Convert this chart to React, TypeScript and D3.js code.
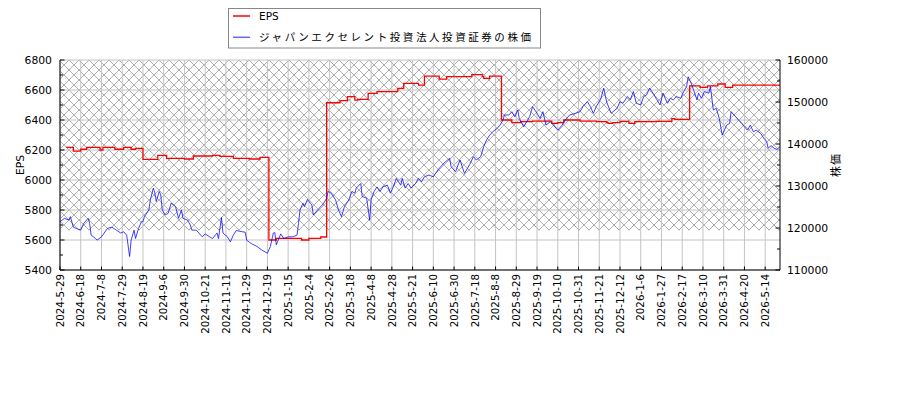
import { useEffect, useRef } from 'react';
import * as d3 from 'd3';

// trading-day index axis, a label every 14 sessions
const N_DAYS = 487;
const TICK_STEP = 14;
const tickLabels = [
  '2024-5-29', '2024-6-18', '2024-7-8', '2024-7-29', '2024-8-19', '2024-9-6', '2024-9-30',
  '2024-10-21', '2024-11-11', '2024-11-29', '2024-12-19', '2025-1-15', '2025-2-4', '2025-2-26',
  '2025-3-18', '2025-4-8', '2025-4-28', '2025-5-21', '2025-6-10', '2025-6-30', '2025-7-18',
  '2025-8-8', '2025-8-29', '2025-9-19', '2025-10-10', '2025-10-31', '2025-11-21', '2025-12-12',
  '2026-1-6', '2026-1-27', '2026-2-17', '2026-3-10', '2026-3-31', '2026-4-20', '2026-5-14',
];

const priceIdx = [
  0, 3, 6, 7, 9, 11, 14, 16, 19, 20, 21, 24, 25, 28, 32, 35, 38, 41, 43, 45, 47, 48, 50, 51, 53, 55, 56, 57,
  60, 61, 63, 64, 65, 67, 68, 69, 71, 73, 75, 78, 80, 82, 83, 86, 88, 89, 92, 96, 98, 101, 103, 106, 107,
  109, 110, 113, 115, 117, 119, 123, 125, 126, 129, 133, 136, 140, 142, 144, 145, 146, 149, 151, 154, 157,
  160, 161, 162, 164, 165, 167, 169, 170, 171, 174, 178, 180, 181, 183, 186, 188, 190, 192, 195, 197, 199,
  200, 203, 204, 207, 209, 210, 212, 214, 216, 218, 221, 223, 225, 227, 230, 231, 233, 235, 237, 240, 242,
  244, 246, 249, 252, 255, 259, 263, 264, 267, 270, 273, 277, 279, 281, 284, 286, 288, 290, 292, 295, 297,
  299, 300, 303, 305, 307, 309, 310, 313, 315, 317, 319, 322, 324, 326, 328, 331, 333, 336, 339, 341, 344,
  348, 351, 353, 356, 358, 360, 362, 365, 367, 369, 372, 376, 378, 380, 383, 385, 387, 389, 392, 394, 396,
  398, 401, 403, 405, 407, 410, 412, 414, 416, 419, 421, 423, 424, 426, 428, 430, 431, 433, 435, 438, 439,
  441, 443, 445, 447, 450, 452, 453, 456, 458, 460, 462, 464, 466, 468, 470, 473, 475, 477, 478, 480, 482,
  484, 486,
];
const priceVal = [
  121500, 122300, 121900, 122700, 120200, 119900, 119500, 121100, 122300, 121100, 118300, 117500, 117100,
  117900, 119900, 120200, 119500, 118800, 119100, 118300, 113200, 117100, 119500, 117500, 119900, 121500,
  121500, 122700, 124300, 126700, 129500, 128300, 126300, 128700, 127900, 124300, 123100, 123500, 125900,
  125100, 122300, 124300, 122300, 121900, 120700, 119500, 119500, 117900, 118600, 117900, 117500, 118800,
  117500, 122500, 118800, 117900, 116700, 118300, 119400, 119100, 119000, 117100, 116300, 115600, 114800,
  114000, 115600, 118800, 118900, 116000, 118600, 117500, 117900, 117900, 118300, 121100, 124300, 125900,
  125100, 126800, 125900, 125500, 123100, 124300, 125900, 127100, 128700, 128300, 126700, 124300, 122700,
  125100, 126700, 128700, 128300, 129500, 130600, 127500, 127100, 121900, 126700, 128700, 129800, 128700,
  129800, 130200, 128300, 129800, 131800, 130200, 131800, 129500, 130600, 129500, 130600, 131800, 131000,
  132200, 132600, 132200, 133800, 135400, 136600, 134600, 133400, 136200, 133000, 135400, 137000, 136200,
  137000, 139400, 141000, 142100, 142900, 143700, 144500, 145700, 146900, 146900, 147700, 146500, 148100,
  146100, 144100, 145300, 146500, 148900, 147300, 146100, 147700, 144500, 145300, 144500, 143300, 144500,
  145700, 146900, 147300, 147700, 148900, 150100, 148900, 147300, 148900, 150700, 153300, 150000, 147300,
  148500, 150100, 149700, 151300, 150500, 152500, 149700, 149300, 151300, 151700, 153300, 151700, 150500,
  149300, 152100, 149700, 150900, 150500, 151300, 150900, 152500, 153700, 156000, 154500, 152500, 150500,
  152100, 150900, 152500, 152100, 153700, 148100, 148500, 146100, 142100, 144500, 144900, 147700, 146500,
  145700, 144900, 144100, 143300, 144500, 142900, 143300, 142500, 141400, 140600, 139000, 139600, 139000,
  138700, 139400,
];

const epsIdx = [
  4, 9, 14, 18, 27, 29, 37, 43, 48, 51, 56, 66, 72, 84, 90, 103, 108, 117, 128, 135, 141, 146, 163, 168,
  176, 180, 189, 194, 199, 201, 208, 214, 228, 232, 242, 246, 256, 261, 278, 285, 286, 290, 298, 305, 311,
  319, 332, 336, 340, 351, 362, 369, 370, 373, 378, 384, 388, 402, 413, 415, 425, 432, 437, 444, 449, 454,
  486,
];
const epsVal = [
  6218, 6193, 6205, 6218, 6200, 6218, 6205, 6218, 6205, 6211, 6138, 6164, 6144, 6140, 6160, 6164, 6157,
  6144, 6140, 6151, 5600, 5611, 5600, 5611, 5620, 6515, 6529, 6556, 6533, 6538, 6578, 6589, 6611, 6644,
  6633, 6693, 6673, 6689, 6702, 6689, 6678, 6693, 6400, 6382, 6389, 6393, 6378, 6382, 6400, 6393, 6389,
  6382, 6378, 6382, 6391, 6378, 6389, 6391, 6409, 6404, 6627, 6618, 6627, 6640, 6618, 6633, 6633,
];

// lower edge of the shaded band, in EPS units
const hatchFloor = 5665;

const legendItems = [
  { label: 'EPS', color: '#ff0000', opacity: 1 },
  { label: 'ジャパンエクセレント投資法人投資証券の株価', color: 'blue', opacity: 0.6 },
];

export default function App() {
  const svgRef = useRef<SVGSVGElement>(null);

  useEffect(() => {
    if (!svgRef.current) return;
    const svg = d3.select(svgRef.current);
    svg.selectAll('*').remove();

    const left = 60, right = 780, top = 60, bottom = 270;
    const font = 'DejaVu Sans, sans-serif';

    const x = d3.scaleLinear().domain([0, N_DAYS - 1]).range([left, right]);
    const yL = d3.scaleLinear().domain([5400, 6800]).range([bottom, top]);
    const yR = d3.scaleLinear().domain([110000, 160000]).range([bottom, top]);

    const pat = svg.append('defs').append('pattern')
      .attr('id', 'hatch')
      .attr('patternUnits', 'userSpaceOnUse')
      .attr('patternTransform', 'translate(-1,0)')
      .attr('width', 10)
      .attr('height', 10);
    pat.append('path')
      .attr('d', 'M0,0L10,10M10,0L0,10')
      .attr('stroke', '#8c8c8c')
      .attr('stroke-width', 0.7)
      .attr('fill', 'none');

    svg.append('rect')
      .attr('x', left).attr('y', yL(6800))
      .attr('width', right - left).attr('height', yL(hatchFloor) - yL(6800))
      .attr('fill', 'url(#hatch)');

    const tickIdx = tickLabels.map((_, i) => i * TICK_STEP);
    const g = svg.append('g');

    // grid
    g.selectAll('line.vgrid').data(tickIdx).enter().append('line')
      .attr('x1', d => x(d)).attr('x2', d => x(d))
      .attr('y1', top).attr('y2', bottom)
      .attr('stroke', '#c4c4c4').attr('stroke-width', 1);
    g.selectAll('line.hgrid').data(d3.range(5400, 6801, 200)).enter().append('line')
      .attr('x1', left).attr('x2', right)
      .attr('y1', d => yL(d)).attr('y2', d => yL(d))
      .attr('stroke', '#c4c4c4').attr('stroke-width', 1);

    // EPS step line
    const epsLine = d3.line<number>()
      .x((_, i) => x(epsIdx[i]))
      .y(d => yL(d))
      .curve(d3.curveStepAfter);
    svg.append('path')
      .datum(epsVal)
      .attr('d', epsLine)
      .attr('fill', 'none')
      .attr('stroke', '#ff0000')
      .attr('stroke-width', 1.3);

    const priceLine = d3.line<number>()
      .x((_, i) => x(priceIdx[i]))
      .y(d => yR(d));
    svg.append('path')
      .datum(priceVal)
      .attr('d', priceLine)
      .attr('fill', 'none')
      .attr('stroke', 'blue')
      .attr('stroke-opacity', 0.75)
      .attr('stroke-width', 1);

    // spines
    const ax = svg.append('g').attr('stroke', '#000').attr('stroke-width', 1);
    ax.append('line').attr('x1', left).attr('x2', left).attr('y1', top).attr('y2', bottom);
    ax.append('line').attr('x1', right).attr('x2', right).attr('y1', top).attr('y2', bottom);
    ax.append('line').attr('x1', left).attr('x2', right).attr('y1', bottom).attr('y2', bottom);

    // left ticks
    d3.range(5400, 6801, 100).forEach(v => {
      const major = v % 200 === 0;
      ax.append('line').attr('x1', left).attr('x2', left + (major ? 4.5 : 3))
        .attr('y1', yL(v)).attr('y2', yL(v));
    });
    svg.append('g').selectAll('text').data(d3.range(5400, 6801, 200)).enter().append('text')
      .attr('x', left - 8).attr('y', d => yL(d)).attr('dy', '0.36em')
      .attr('text-anchor', 'end').attr('font-family', font).attr('font-size', 10.8)
      .text(d => d);

    // right ticks
    d3.range(110000, 160001, 5000).forEach(v => {
      const major = v % 10000 === 0;
      ax.append('line').attr('x1', right).attr('x2', right - (major ? 4.5 : 3))
        .attr('y1', yR(v)).attr('y2', yR(v));
    });
    svg.append('g').selectAll('text').data(d3.range(110000, 160001, 10000)).enter().append('text')
      .attr('x', right + 7).attr('y', d => yR(d)).attr('dy', '0.36em')
      .attr('font-family', font).attr('font-size', 10.8)
      .text(d => d);

    // bottom ticks
    tickIdx.forEach(t => {
      ax.append('line').attr('x1', x(t)).attr('x2', x(t)).attr('y1', bottom).attr('y2', bottom - 3.5);
    });
    svg.append('g').selectAll('text').data(tickLabels).enter().append('text')
      .attr('transform', (_, i) => `translate(${x(tickIdx[i])},${bottom + 4}) rotate(-90)`)
      .attr('dy', '0.36em')
      .attr('text-anchor', 'end').attr('font-family', font).attr('font-size', 10.3)
      .text(d => d);

    // axis titles
    svg.append('text')
      .attr('transform', `translate(20,${(top + bottom) / 2}) rotate(-90)`)
      .attr('dy', '0.36em').attr('text-anchor', 'middle')
      .attr('font-family', font).attr('font-size', 10.8)
      .text('EPS');
    svg.append('text')
      .attr('transform', `translate(836,${(top + bottom) / 2}) rotate(-90)`)
      .attr('dy', '0.36em').attr('text-anchor', 'middle')
      .attr('font-family', 'Noto Sans CJK JP, sans-serif').attr('font-size', 11)
      .attr('letter-spacing', 1)
      .text('株価');

    // legend
    const lg = svg.append('g');
    lg.append('rect')
      .attr('x', 228.5).attr('y', 8.5).attr('width', 312).attr('height', 39.5)
      .attr('fill', '#fff').attr('stroke', '#888').attr('stroke-width', 1);
    legendItems.forEach((item, i) => {
      const cy = 16 + i * 21.3;
      lg.append('line')
        .attr('x1', 233).attr('x2', 250).attr('y1', cy).attr('y2', cy)
        .attr('stroke', item.color).attr('stroke-opacity', item.opacity).attr('stroke-width', 1.5);
      const t = lg.append('text')
        .attr('x', 259).attr('y', cy).attr('dy', '0.36em')
        .attr('font-family', 'DejaVu Sans, Noto Sans CJK JP, sans-serif').attr('font-size', 10.5)
        .text(item.label);
      if (i === 1) t.attr('textLength', 272).attr('lengthAdjust', 'spacing');
    });
  }, []);

  return (
    <svg
      ref={svgRef}
      width={900}
      height={400}
      style={{ position: 'absolute', left: 0, top: 0, background: '#fff' }}
    />
  );
}
